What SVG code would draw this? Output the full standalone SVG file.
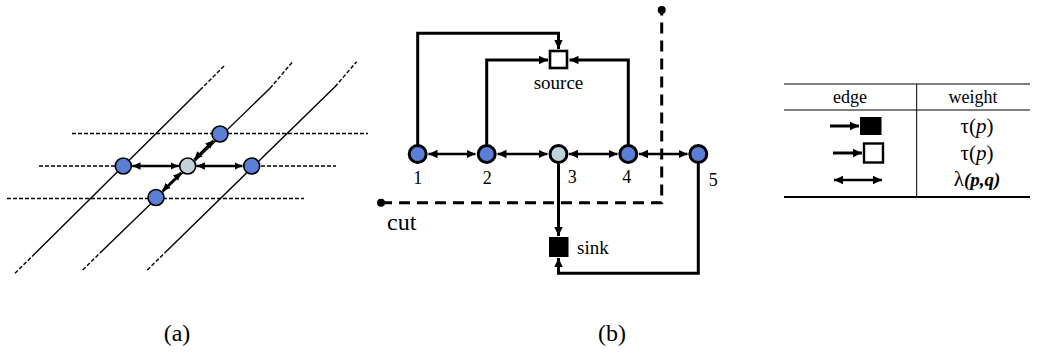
<svg xmlns="http://www.w3.org/2000/svg" width="1048" height="363" viewBox="0 0 1048 363">
<style>
text{font-family:"Liberation Serif","Times New Roman",serif;fill:#000}
.grid{stroke:#000;stroke-width:1.4;fill:none}
.gd{stroke:#000;stroke-width:1.4;fill:none;stroke-dasharray:4,2}
.na{stroke:#000;stroke-width:1.6}
.nb{stroke:#000;stroke-width:3}
.blue{fill:#5b7fd6}
.grey{fill:#c3d2d9}
.ea{stroke:#000;stroke-width:2.4;fill:none;marker-start:url(#ahs);marker-end:url(#ahs)}
.eb{stroke:#000;stroke-width:2.6;fill:none;marker-start:url(#ah);marker-end:url(#ah)}
.ed{stroke:#000;stroke-width:3;fill:none;marker-end:url(#ah)}
</style>
<defs>
<marker id="ah" markerUnits="userSpaceOnUse" markerWidth="10" markerHeight="10" refX="9" refY="5" orient="auto-start-reverse"><path d="M0,0.8 L9,5 L0,9.2 z" fill="#000"/></marker>
<marker id="ahs" markerUnits="userSpaceOnUse" markerWidth="9" markerHeight="9" refX="8" refY="4.5" orient="auto-start-reverse"><path d="M0,0.8 L8,4.5 L0,8.2 z" fill="#000"/></marker>
</defs>

<!-- (a) grid -->
<g id="grid-a">
<line class="gd" x1="72" y1="133.5" x2="368" y2="133.5"/>
<line class="gd" x1="39" y1="166" x2="336" y2="166"/>
<line class="gd" x1="7" y1="198.5" x2="304" y2="198.5"/>
<line class="grid" x1="35" y1="253.5" x2="200" y2="90"/>
<line class="gd" x1="15" y1="273.3" x2="35" y2="253.5"/>
<line class="gd" x1="200" y1="90" x2="225" y2="65"/>
<line class="grid" x1="100" y1="253" x2="270" y2="88.3"/>
<line class="gd" x1="82.7" y1="270" x2="100" y2="253"/>
<line class="gd" x1="270" y1="88.3" x2="292.7" y2="61.7"/>
<line class="grid" x1="166.7" y1="251" x2="335" y2="86.7"/>
<line class="gd" x1="147.3" y1="270" x2="166.7" y2="251"/>
<line class="gd" x1="335" y1="86.7" x2="356.7" y2="61.7"/>
</g>
<g id="edges-a">
<line class="ea" x1="132.5" y1="166" x2="178.5" y2="166"/>
<line class="ea" x1="196.9" y1="166" x2="242.5" y2="166"/>
<line class="ea" x1="194.3" y1="159.5" x2="213.4" y2="140.5"/>
<line class="ea" x1="181.2" y1="172.5" x2="162.5" y2="191"/>
</g>
<g id="nodes-a">
<circle id="a-top" class="na blue" cx="220" cy="134" r="8"/>
<circle id="a-left" class="na blue" cx="123.3" cy="166" r="8"/>
<circle id="a-center" class="na grey" cx="187.7" cy="166" r="8"/>
<circle id="a-right" class="na blue" cx="251.7" cy="166" r="8"/>
<circle id="a-bottom" class="na blue" cx="156" cy="197.5" r="8"/>
</g>

<!-- (b) -->
<g id="connectors-b">
<line class="eb" x1="428.5" y1="154" x2="475.5" y2="154"/>
<line class="eb" x1="497.5" y1="154" x2="547.5" y2="154"/>
<line class="eb" x1="569" y1="154" x2="617.5" y2="154"/>
<line class="eb" x1="639" y1="154" x2="687.5" y2="154"/>
<path class="ed" d="M417.7,145 V33.3 H558.5 V49"/>
<path class="ed" d="M486.7,145 V60 H548"/>
<path class="ed" d="M628.3,145 V60 H569.5"/>
<path class="ed" d="M558.5,163 V236"/>
<path class="ed" d="M698.3,163 V273.3 H558.5 V258"/>
</g>
<g id="cut">
<path d="M381,202.7 H661.7 V10" fill="none" stroke="#000" stroke-width="3" stroke-dasharray="11,7"/>
<circle cx="381" cy="202.7" r="4"/>
<circle cx="661.7" cy="10" r="4"/>
<text x="387" y="230" font-size="24">cut</text>
</g>
<g id="source">
<rect x="550" y="51" width="17" height="17" fill="#fff" stroke="#000" stroke-width="2.6"/>
<text x="558.5" y="89" font-size="19" text-anchor="middle">source</text>
</g>
<g id="sink">
<rect x="549" y="237" width="19.5" height="20" fill="#000"/>
<text x="577" y="254" font-size="19">sink</text>
</g>
<g id="n1"><circle class="nb blue" cx="417.7" cy="154" r="8.5"/><text x="417.7" y="184" font-size="18" text-anchor="middle">1</text></g>
<g id="n2"><circle class="nb blue" cx="486.7" cy="154" r="8.5"/><text x="487.3" y="184" font-size="18" text-anchor="middle">2</text></g>
<g id="n3"><circle class="nb grey" cx="558.5" cy="154" r="8.5"/><text x="572.3" y="182.5" font-size="18" text-anchor="middle">3</text></g>
<g id="n4"><circle class="nb blue" cx="628.3" cy="154" r="8.5"/><text x="626.7" y="182.5" font-size="18" text-anchor="middle">4</text></g>
<g id="n5"><circle class="nb blue" cx="698.3" cy="154" r="8.5"/><text x="713.3" y="185.5" font-size="18" text-anchor="middle">5</text></g>

<!-- table -->
<g id="legend-table">
<line x1="784" y1="84" x2="1030" y2="84" stroke="#000" stroke-width="1"/>
<line x1="784" y1="110" x2="1030" y2="110" stroke="#000" stroke-width="1"/>
<line x1="784" y1="197" x2="1030" y2="197" stroke="#000" stroke-width="2.2"/>
<line x1="916.7" y1="84" x2="916.7" y2="197" stroke="#000" stroke-width="1"/>
<text x="850" y="103" font-size="18" text-anchor="middle">edge</text>
<text x="973" y="103" font-size="18" text-anchor="middle">weight</text>
<line x1="830" y1="126" x2="859" y2="126" stroke="#000" stroke-width="3" marker-end="url(#ah)"/>
<rect x="860" y="117" width="21.5" height="18" fill="#000"/>
<line x1="833" y1="153" x2="862" y2="153" stroke="#000" stroke-width="3" marker-end="url(#ah)"/>
<rect x="864" y="143.5" width="19" height="19" fill="#fff" stroke="#000" stroke-width="2.4"/>
<line class="eb" x1="834" y1="180" x2="882" y2="180"/>
<text x="977" y="133" font-size="21" text-anchor="middle">τ(<tspan font-style="italic">p</tspan>)</text>
<text x="977" y="160" font-size="21" text-anchor="middle">τ(<tspan font-style="italic">p</tspan>)</text>
<text x="977" y="186" font-size="21" text-anchor="middle">λ<tspan font-style="italic" font-weight="bold" font-size="19">(p,q)</tspan></text>
</g>

<text x="177" y="341" font-size="24" text-anchor="middle">(a)</text>
<text x="612" y="341" font-size="24" text-anchor="middle">(b)</text>
</svg>
